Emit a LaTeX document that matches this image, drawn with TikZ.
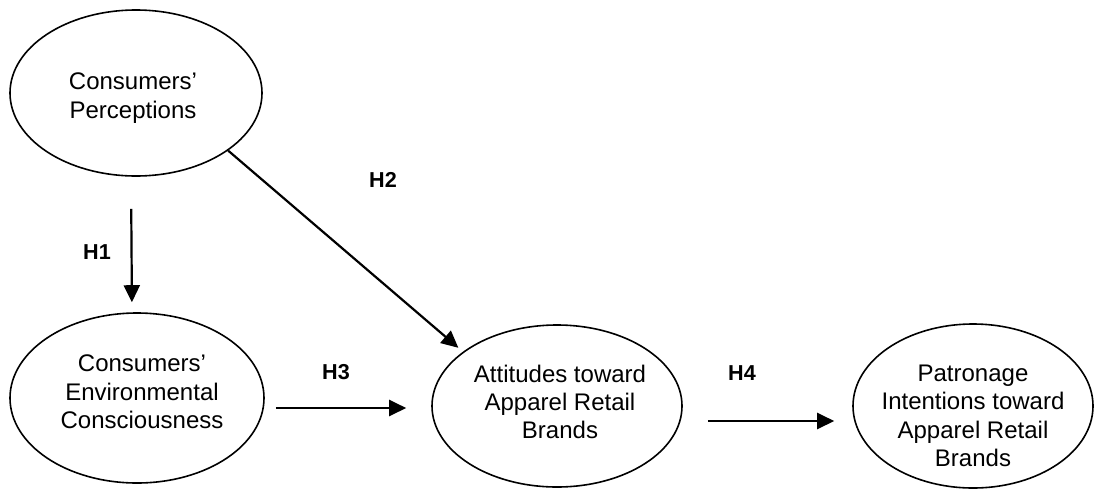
\documentclass[tikz,border=0pt]{standalone}
\usepackage{fontspec}
\setmainfont{Liberation Sans}
\usetikzlibrary{arrows.meta,shapes.geometric}

\begin{document}
\begin{tikzpicture}[x=0.5pt,y=-0.5pt,
  oval/.style={draw,ellipse,line width=0.8pt,inner sep=0pt},
  txt/.style={align=center,font=\fontsize{12}{14.2}\selectfont},
  hyp/.style={font=\fontsize{10.8}{12}\selectfont\bfseries},
  arr/.style={line width=1.1pt,-{Triangle[length=8.5pt,width=8pt]}}]
  \useasboundingbox (0,0) rectangle (1097,488);

  % constructs
  \node[oval,minimum width=126pt,minimum height=83pt] (cp) at (136,93) {};
  \node[txt] (cpt) at (133,98) {Consumers'\\Perceptions};
  \node[oval,minimum width=127pt,minimum height=85pt] (ec) at (137,398) {};
  \node[txt] (ect) at (142,392) {Consumers'\\Environmental\\Consciousness};
  \node[oval,minimum width=125pt,minimum height=81pt] (at) at (557,406) {};
  \node[txt] (att) at (560,402) {Attitudes toward\\Apparel Retail\\Brands};
  \node[oval,minimum width=120pt,minimum height=82pt] (pi) at (973,406) {};
  \node[txt] (pit) at (973,416) {Patronage\\Intentions toward\\Apparel Retail\\Brands};

  % hypotheses
  \draw[arr,shorten <=16pt,shorten >=5pt] ([xshift=-2.5pt]cp.south) -- ([xshift=-2.5pt]ec.north);
  \draw[arr,shorten >=3pt] (cp.-32.7) -- (at.150.8);
  \draw[arr,shorten <=5.5pt,shorten >=12.5pt] ([yshift=-5pt]ec.east) -- ([yshift=-1pt]at.west);
  \draw[arr,shorten <=12.5pt,shorten >=9pt] ([yshift=-7.5pt]at.east) -- ([yshift=-7.5pt]pi.west);
  \node[hyp] (h1) at (97,252) {H1};
  \node[hyp] (h2) at (383,180) {H2};
  \node[hyp] (h3) at (336,372) {H3};
  \node[hyp] (h4) at (742,373) {H4};
\end{tikzpicture}
\end{document}
